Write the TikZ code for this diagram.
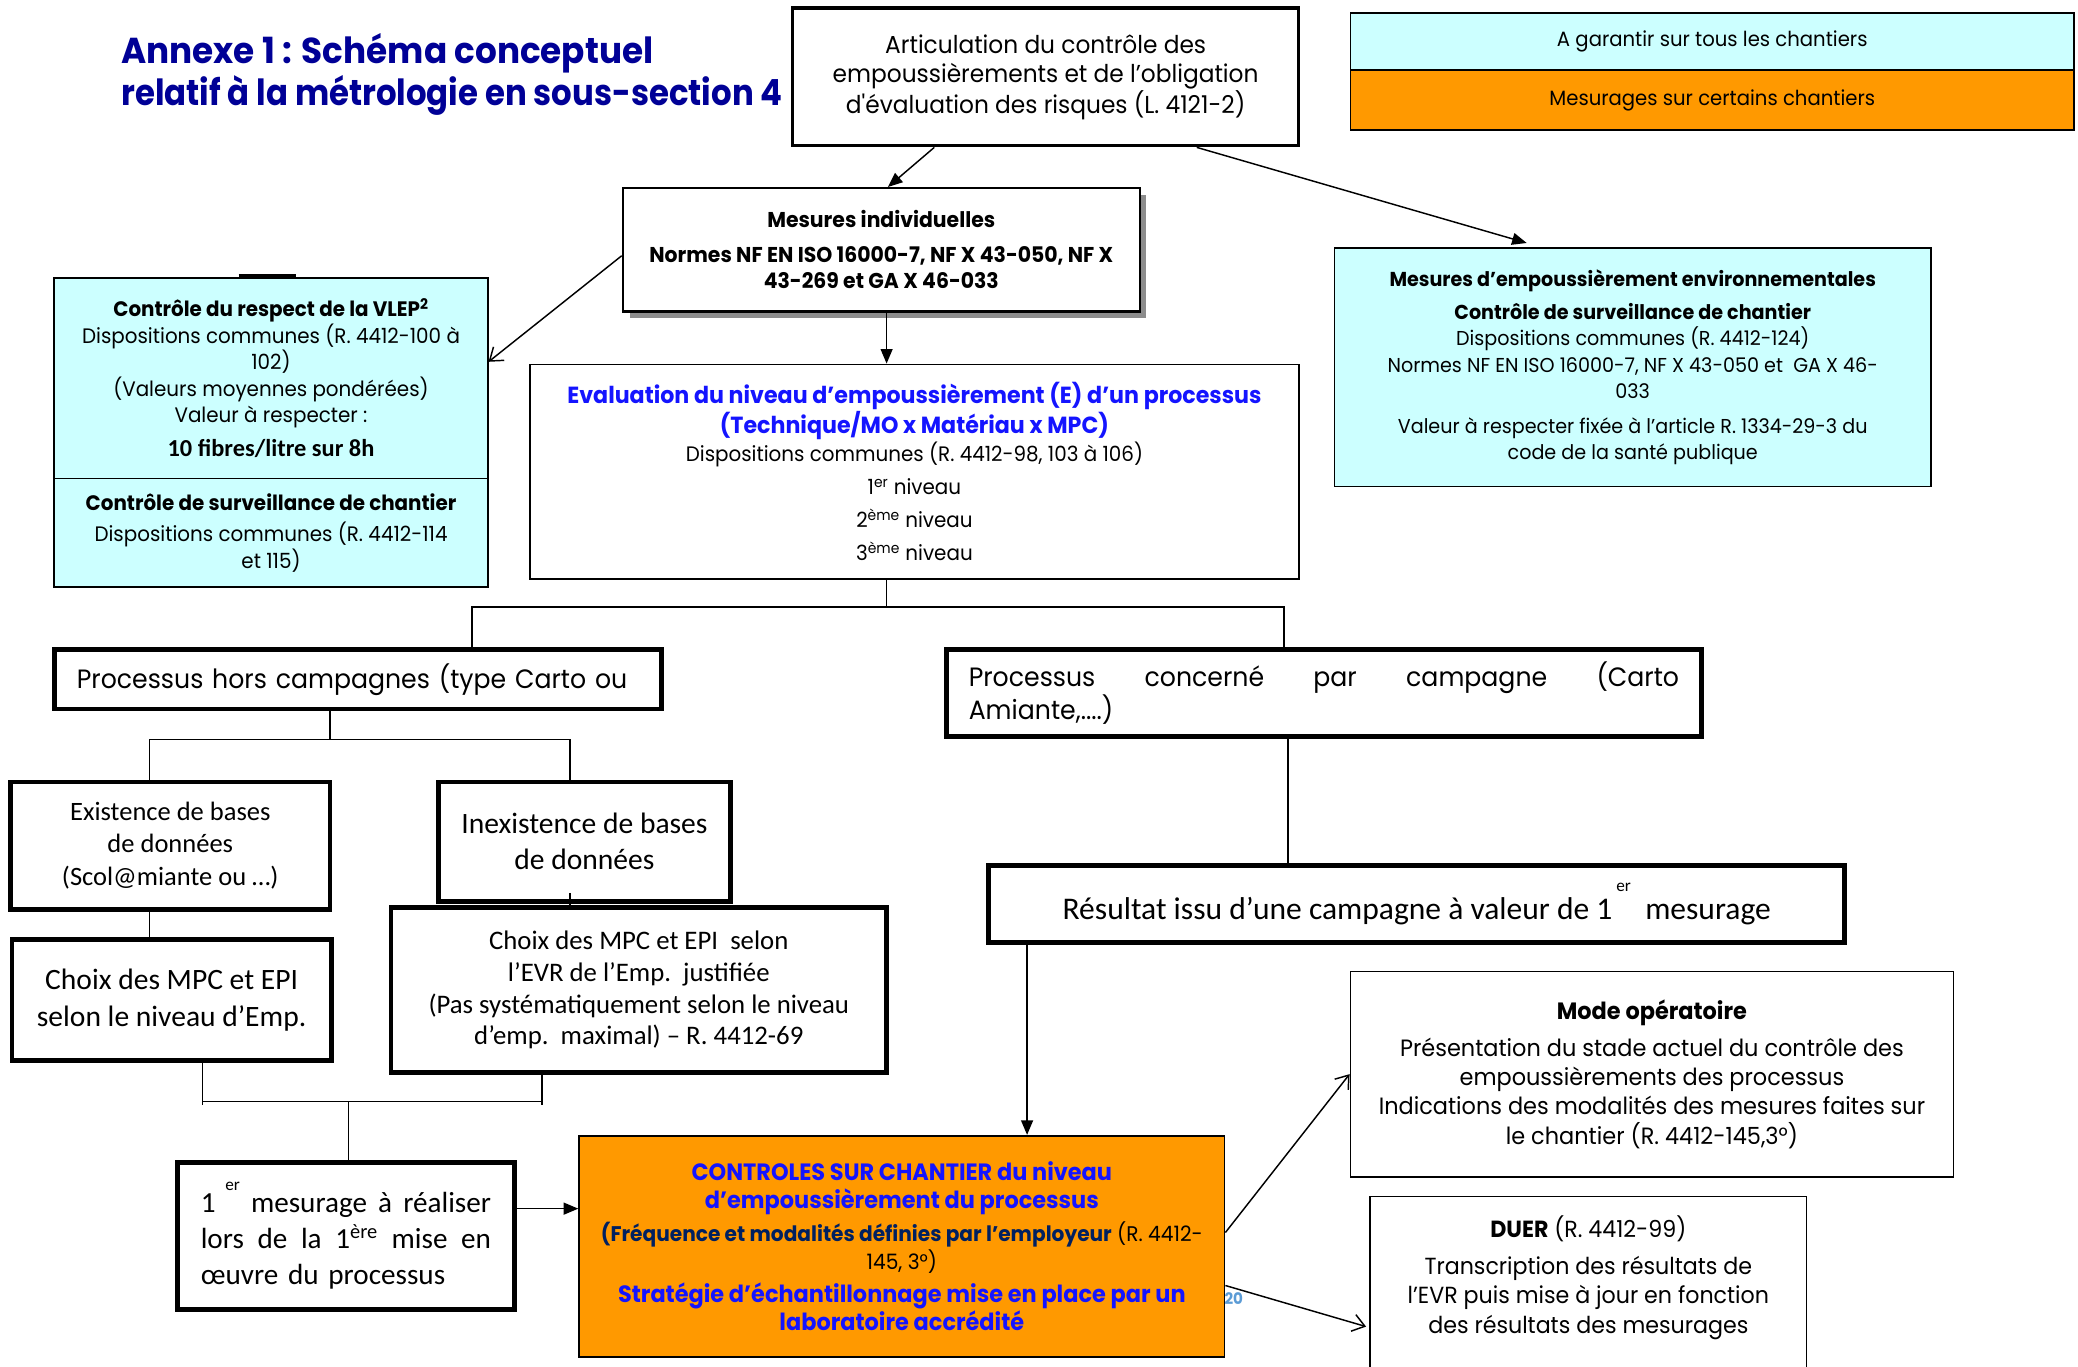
\documentclass[tikz,border=0pt]{standalone}
\usepackage{fontspec}
\usepackage{graphicx}
\usetikzlibrary{arrows.meta,shadows}
\newfontfamily\gothic{Poppins}[FakeStretch=0.95]
\newfontfamily\calib{Carlito}
\definecolor{navy}{RGB}{0,0,150}
\definecolor{evblue}{RGB}{20,20,255}
\definecolor{navyd}{RGB}{0,32,96}
\definecolor{cyanfill}{RGB}{204,255,255}
\definecolor{orangefill}{RGB}{255,153,0}
\definecolor{pgblue}{RGB}{91,155,213}
\tikzset{
  box/.style={draw, line width=1.3pt, align=center, inner sep=0pt},
  heavybox/.style={draw, line width=3.6pt, align=center, inner sep=0pt},
  gfont/.style={font=\gothic\fontsize{15.8}{20}\selectfont},
  filltip/.style={-{Triangle[length=11pt,width=9pt]}},
  opentip/.style={-{Straight Barb[length=9pt,width=13pt]}},
  conn/.style={line width=1.1pt},
}
\begin{document}
\begin{tikzpicture}[x=1pt,y=-1pt]
\useasboundingbox (0,0) rectangle (1568,1031);

% title
\node[anchor=west, align=left, text=navy, font=\gothic\bfseries\fontsize{27.2}{32}\selectfont] (title) at (88,56)
  {Annexe 1 : Schéma conceptuel\\\scalebox{0.945}[1]{relatif à la métrologie en sous-section 4}};

% legend
\node[draw, line width=1.3pt, fill=cyanfill, minimum width=546pt, minimum height=43pt, inner sep=0pt,
      font=\gothic\fontsize{15.6}{18}\selectfont] (leg1) at (1292,31.5) {A garantir sur tous les chantiers};
\node[draw, line width=1.3pt, fill=orangefill, minimum width=546pt, minimum height=45pt, inner sep=0pt,
      font=\gothic\fontsize{15.6}{18}\selectfont] (leg2) at (1292,75.5) {Mesurages sur certains chantiers};

% top box
\node[box, line width=2.4pt, minimum width=382pt, minimum height=104pt, font=\gothic\fontsize{18.5}{22}\selectfont] (art) at (789,58)
  {Articulation du contrôle des\\empoussièrements et de l’obligation\\d'évaluation des risques (L. 4121-2)};

% mesures individuelles
\node[box, line width=1.8pt, fill=white, minimum width=390pt, minimum height=93pt, font=\gothic\fontsize{16.2}{20}\selectfont,
      drop shadow={shadow xshift=5pt, shadow yshift=-5pt, fill=black!45, opacity=1}] (mes) at (665,188.5)
  {\textbf{Mesures individuelles}\\[6pt]\textbf{Normes NF EN ISO 16000-7, NF X 43-050, NF X}\\\textbf{43-269 et GA X 46-033}};

% VLEP boxes
\node[box, fill=cyanfill, minimum width=327pt, minimum height=151pt, gfont] (vlepA) at (204.5,285.5)
  {\textbf{Contrôle du respect de la VLEP\textsuperscript{2}}\\Dispositions communes (R. 4412-100 à\\102)\\(Valeurs moyennes pondérées)\\Valeur à respecter :\\[6pt]{\calib\bfseries\fontsize{18.4}{20}\selectfont 10 fibres/litre sur 8h}};
\node[box, fill=cyanfill, minimum width=327pt, minimum height=82pt, gfont] (vlepB) at (204.5,402)
  {\textbf{Contrôle de surveillance de chantier}\\[4pt]Dispositions communes (R. 4412-114\\et 115)};
\draw[line width=2.6pt] ([xshift=-24.5pt,yshift=1.5pt]vlepA.north) -- ([xshift=18.5pt,yshift=1.5pt]vlepA.north);

% evaluation
\node[box, minimum width=580pt, minimum height=162pt, font=\gothic\fontsize{15.8}{21}\selectfont] (eval) at (690,356)
  {{\color{evblue}\bfseries\fontsize{17.6}{22}\selectfont Evaluation du niveau d’empoussièrement (E) d’un processus}\\
   {\color{evblue}\bfseries\fontsize{17.6}{22}\selectfont (Technique/MO x Matériau x MPC)}\\
   Dispositions communes (R. 4412-98, 103 à 106)\\[4pt]
   1\textsuperscript{er} niveau\\[4pt]
   2\textsuperscript{ème} niveau\\[4pt]
   3\textsuperscript{ème} niveau};

% environnementales
\node[box, fill=cyanfill, minimum width=450pt, minimum height=180pt, font=\gothic\fontsize{15.2}{20}\selectfont] (env) at (1232,277)
  {\textbf{Mesures d’empoussièrement environnementales}\\[5pt]
   \textbf{Contrôle de surveillance de chantier}\\
   Dispositions communes (R. 4412-124)\\
   Normes NF EN ISO 16000-7, NF X 43-050 et\ \ GA X 46-\\
   033\\[6pt]
   Valeur à respecter fixée à l’article R. 1334-29-3 du\\
   code de la santé publique};

% processus
\node[heavybox, align=left, text width=424pt, inner xsep=17pt, minimum height=45pt, font=\gothic\fontsize{20}{24}\selectfont] (phc) at (270,512.5)
  {Processus hors campagnes (type Carto ou};
\node[heavybox, align=left, text width=536pt, inner xsep=17pt, minimum height=66pt, font=\gothic\fontsize{20}{24}\selectfont] (pcc) at (999,523)
  {\makebox[536pt][l]{Processus\hfill concerné\hfill par\hfill campagne\hfill (Carto}\\Amiante,....)};

% bases de donnees
\node[heavybox, minimum width=241pt, minimum height=96pt, font=\calib\fontsize{20}{24.5}\selectfont] (exi) at (128.5,638)
  {Existence de bases\\de données\\(Scol@miante ou …)};
\node[heavybox, minimum width=220pt, minimum height=90pt, font=\calib\fontsize{22.3}{27}\selectfont] (inex) at (441,635)
  {Inexistence de bases\\de données};
\node[heavybox, minimum width=241pt, minimum height=91pt, font=\calib\fontsize{22.3}{28}\selectfont] (choixL) at (129.5,754.5)
  {Choix des MPC et EPI\\selon le niveau d’Emp.};
\node[heavybox, minimum width=374pt, minimum height=124pt, font=\calib\fontsize{20.2}{24}\selectfont] (choixR) at (482,747)
  {Choix des MPC et EPI\ \ selon\\l’EVR de l’Emp.\ \ justifiée\\(Pas systématiquement selon le niveau\\d’emp.\ \ maximal) – R. 4412-69};

% premier mesurage
\node[heavybox, align=left, text width=219pt, inner xsep=17.5pt, minimum height=111pt, font=\calib\fontsize{22}{27}\selectfont] (premier) at (261,932.5)
  {\makebox[219pt][l]{1\raisebox{0.75em}{\fontsize{13}{13}\selectfont\ er}\hfill mesurage\hfill à\hfill réaliser}\\
   \makebox[219pt][l]{lors\hfill de\hfill la\hfill 1\textsuperscript{ère}\hfill mise\hfill en}\\
   œuvre du processus};

% resultat
\node[heavybox, minimum width=646pt, minimum height=58pt, font=\calib\fontsize{23.8}{26}\selectfont] (res) at (1069,682)
  {Résultat issu d’une campagne à valeur de 1\raisebox{0.9em}{\fontsize{13}{13}\selectfont\ er}\ \ mesurage};

% orange box
\node[box, fill=orangefill, minimum width=487pt, minimum height=167pt, font=\gothic\fontsize{16}{21}\selectfont] (orange) at (680.5,940.5)
  {{\color{evblue}\bfseries\fontsize{17.8}{23}\selectfont CONTROLES SUR CHANTIER du niveau}\\
   {\color{evblue}\bfseries\fontsize{17.8}{23}\selectfont d’empoussièrement du processus}\\[4pt]
   {\color{navyd}\bfseries (Fréquence et modalités définies par l’employeur} (R. 4412-\\
   145, 3°)\\[4pt]
   {\color{evblue}\bfseries\fontsize{17.8}{23}\selectfont Stratégie d’échantillonnage mise en place par un}\\
   {\color{evblue}\bfseries\fontsize{17.8}{23}\selectfont laboratoire accrédité}};
\node[text=pgblue, font=\gothic\bfseries\fontsize{12}{12}\selectfont, inner sep=0pt] (pgnum) at (931,980) {20};

% mode operatoire
\node[box, minimum width=455pt, minimum height=155pt, font=\gothic\fontsize{17.8}{22}\selectfont] (mode) at (1246.5,810.5)
  {\textbf{Mode opératoire}\\[6pt]
   Présentation du stade actuel du contrôle des\\
   empoussièrements des processus\\
   Indications des modalités des mesures faites sur\\
   le chantier (R. 4412-145,3°)};

% DUER (bottom cut by the page)
\node[align=center, inner sep=0pt, minimum width=329pt, minimum height=122pt, font=\gothic\fontsize{17.6}{22}\selectfont] (duer) at (1198.5,964)
  {\textbf{DUER} (R. 4412-99)\\[6pt]
   Transcription des résultats de\\
   l’EVR puis mise à jour en fonction\\
   des résultats des mesurages};
\draw[line width=1.3pt] ([yshift=-30pt]duer.south west) -- (duer.north west) -- (duer.north east) -- ([yshift=-30pt]duer.south east);

% connectors
\draw[conn, filltip] ([xshift=-84pt]art.south) -- ([xshift=5pt]mes.north);
\draw[conn, filltip] ([xshift=114pt]art.south) -- ([xshift=-80pt,yshift=3pt]env.north);
\draw[conn, opentip] ([yshift=-4.5pt]mes.west) -- ([yshift=12.5pt]vlepA.east);
\draw[conn, filltip] ([xshift=4pt]mes.south) -- ([xshift=-21pt]eval.north);

\coordinate (jT) at (669,458);
\draw[conn] ([xshift=-21pt]eval.south) -- (jT);
\draw[conn] ([xshift=86pt]phc.north) |- (jT) -| ([xshift=-30pt]pcc.north);

\coordinate (jP) at (249,558);
\draw[conn] ([xshift=-21pt]phc.south) -- (jP);
\draw[conn] ([xshift=-15.5pt]exi.north) |- (jP) -| ([xshift=-11pt]inex.north);

\draw[conn] ([xshift=-15.5pt]exi.south) -- ([xshift=-16.5pt]choixL.north);
\draw[conn] ([xshift=-11pt,yshift=8pt]inex.south) -- ([xshift=-52pt,yshift=-3pt]choixR.north);

\coordinate (jB) at (263,831);
\draw[conn] ([xshift=23.5pt]choixL.south) -- ([xshift=23.5pt]choixL.south |- jB) -- ++(0,3);
\draw[conn] ([xshift=-73pt]choixR.south) -- ([xshift=-73pt]choixR.south |- jB) -- ++(0,3);
\draw[conn] ([xshift=23.5pt]choixL.south |- jB) -- ([xshift=-73pt]choixR.south |- jB);
\draw[conn] (jB) -- ([xshift=2pt]premier.north);

\draw[conn, filltip] ([yshift=20.5pt]premier.east) -- ([yshift=28.5pt]orange.west);

\draw[conn] ([xshift=-27pt]pcc.south) -- ([xshift=-97pt]res.north);
\draw[conn, filltip] ([xshift=-294pt]res.south) -- ([xshift=94.5pt]orange.north);

\draw[conn, opentip] ([yshift=10.5pt]orange.east) -- (mode.west);
\draw[conn, opentip] ([yshift=-29.5pt]orange.east) -- ([xshift=-3pt,yshift=-37pt]duer.west);
\end{tikzpicture}
\end{document}
